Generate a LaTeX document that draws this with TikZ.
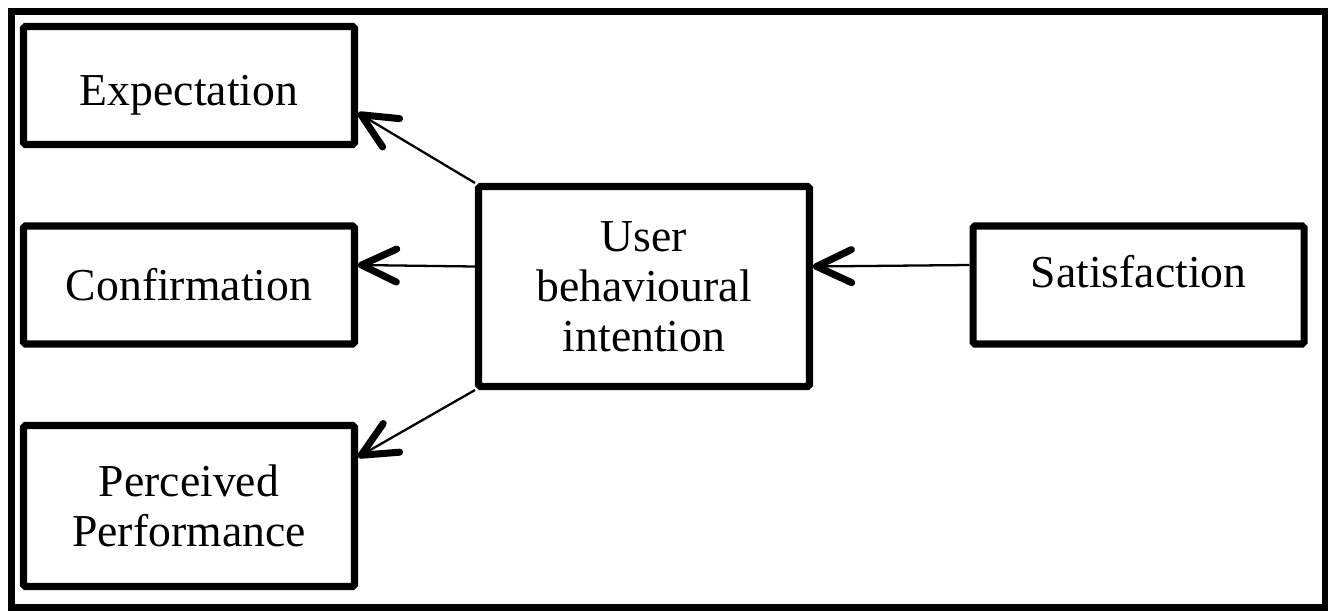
\documentclass[tikz,border=0pt]{standalone}
\usepackage{fontspec}
\setmainfont{Liberation Serif}
\usetikzlibrary{arrows.meta}

\begin{document}
\begin{tikzpicture}[
  box/.style={draw, line width=4pt, rounded corners=1pt,
    minimum width=6.62cm, minimum height=2.36cm, align=center,
    font=\fontsize{26}{28.5}\selectfont},
  link/.style={line width=1.3pt,
    -{Straight Barb[length=0.7cm, width=0.66cm, line width=4pt, round]}}
]
\useasboundingbox (0,0) rectangle (26.56,-12.2);
\draw [line width=4pt] (0.23,-0.23) rectangle (26.5,-12.15);

\node[box, text height=0.98cm, text depth=0.2cm] (exp) at (3.78,-1.71) {Expectation};
\node[box] (conf) at (3.78,-5.7) {Confirmation};
\node[box, minimum height=3.22cm] (perc) at (3.78,-10.12) {Perceived\\Performance};
\node[box, minimum height=4cm] (ubi) at (12.88,-5.73) {User\\behavioural\\intention};
\node[box, text height=0.6cm, text depth=0.5cm] (sat) at (22.77,-5.7) {Satisfaction};

\draw[link]
     (ubi.north west)
  -- ([yshift=-0.55cm]exp.east);
\draw[link]
     ([yshift=0.4cm]ubi.west)
  -- ([yshift=0.4cm]conf.east);
\draw[link]
     (ubi.south west)
  -- ([yshift=0.98cm]perc.east);
\draw[link]
     ([yshift=0.4cm]sat.west)
  -- ([yshift=0.4cm]ubi.east);
\end{tikzpicture}
\end{document}
